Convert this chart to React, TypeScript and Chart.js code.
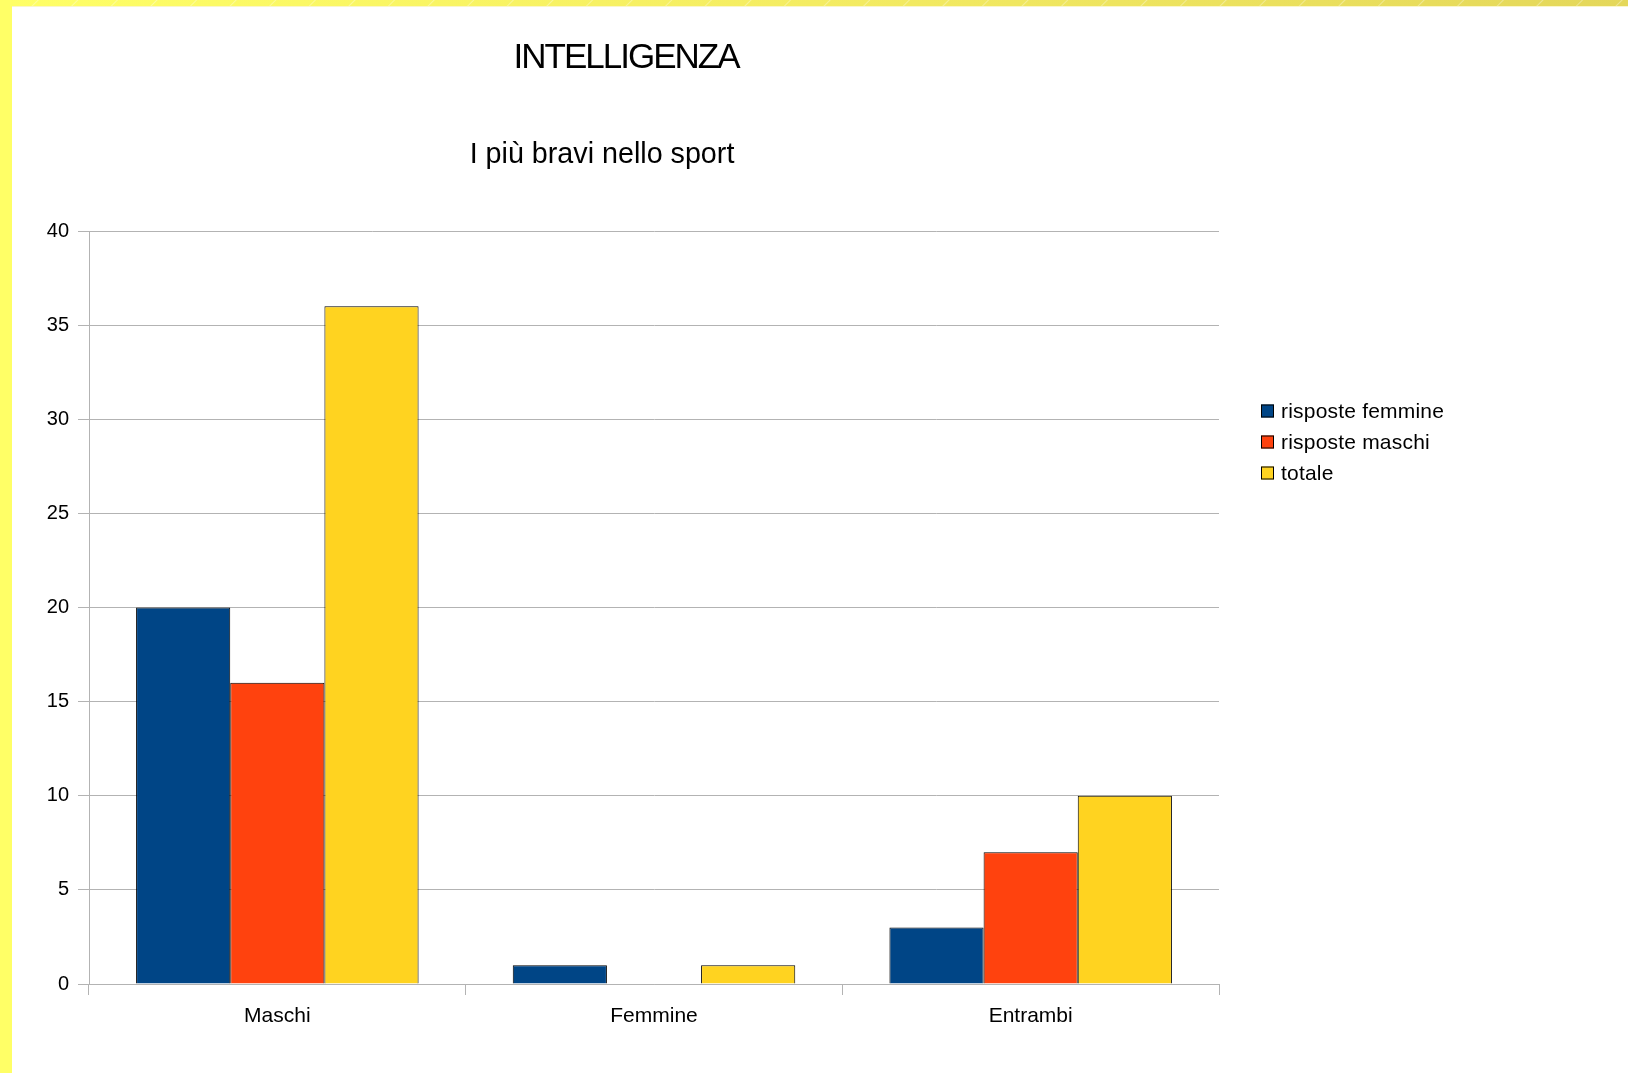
import React, { useEffect, useRef } from "react";
import { Chart, registerables } from "chart.js";

Chart.register(...registerables);

const categories = ["Maschi", "Femmine", "Entrambi"];
const seriesLabels = ["risposte femmine", "risposte maschi", "totale"];
const femmineValues = [20, 1, 3];
const maschiValues = [16, 0, 7];
const totaleValues = [36, 1, 10];
const seriesColors = ["#004586", "#ff420e", "#ffd320"];
const yTicks = [0, 5, 10, 15, 20, 25, 30, 35, 40];

const mainTitle = "INTELLIGENZA";
const subTitle = "I più bravi nello sport";

const FONT = "'Liberation Sans', Arial, sans-serif";
const GRID = "#b3b3b3";

// Titles and the legend are painted by hand so they sit where the layout needs them.
const decorPlugin = {
  id: "decor",
  afterDraw(chart: Chart) {
    const ctx = chart.ctx as any;
    ctx.save();
    ctx.fillStyle = "#000";
    ctx.textAlign = "center";
    ctx.textBaseline = "alphabetic";
    ctx.font = `35px ${FONT}`;
    ctx.letterSpacing = "-2px";
    ctx.fillText(mainTitle, 626, 68);
    ctx.letterSpacing = "0px";
    ctx.font = `28.7px ${FONT}`;
    ctx.fillText(subTitle, 602, 163);

    const items = chart.data.datasets;
    ctx.textAlign = "left";
    ctx.textBaseline = "middle";
    ctx.font = `21px ${FONT}`;
    ctx.letterSpacing = "0.2px";
    items.forEach((ds, i) => {
      const y = 411 + i * 31;
      ctx.fillStyle = ds.backgroundColor as string;
      ctx.fillRect(1261, y - 6.5, 13, 13);
      ctx.strokeStyle = "#000";
      ctx.lineWidth = 1;
      ctx.strokeRect(1261.5, y - 6, 12, 12);
      ctx.fillStyle = "#000";
      ctx.fillText(ds.label as string, 1281, y + 1);
    });
    ctx.restore();
  },
};

function BarChart() {
  const ref = useRef<HTMLCanvasElement | null>(null);

  useEffect(() => {
    if (!ref.current) return;
    const values = [femmineValues, maschiValues, totaleValues];
    const chart = new Chart(ref.current, {
      type: "bar",
      data: {
        labels: categories,
        datasets: seriesLabels.map((label, i) => ({
          label,
          data: values[i],
          backgroundColor: seriesColors[i],
          borderColor: "#000",
          borderWidth: 1,
          categoryPercentage: 0.75,
          barPercentage: 1.0,
        })),
      },
      options: {
        animation: false,
        responsive: false,
        maintainAspectRatio: false,
        layout: { padding: { left: 0, top: 231, right: 409, bottom: 0 } },
        plugins: {
          legend: { display: false },
          title: { display: false },
          tooltip: { enabled: false },
        },
        scales: {
          x: {
            offset: true,
            grid: {
              offset: true,
              drawOnChartArea: true,
              color: (c: any) => (c.index === categories.length ? GRID : "rgba(0,0,0,0)"),
              tickColor: GRID,
              tickLength: 11,
              lineWidth: 1,
            },
            border: { color: GRID, width: 1 },
            ticks: { color: "#000", font: { family: FONT, size: 21 }, padding: 9 },
            afterFit(scale: any) {
              scale.height = 89;
            },
          },
          y: {
            min: 0,
            max: 40,
            afterBuildTicks(scale: any) {
              scale.ticks = yTicks.map((v) => ({ value: v }));
            },
            grid: { color: GRID, tickColor: GRID, tickLength: 11, lineWidth: 1 },
            border: { color: GRID, width: 1 },
            ticks: { color: "#000", font: { family: FONT, size: 20 }, padding: 9 },
            afterFit(scale: any) {
              scale.width = 89;
            },
          },
        },
      },
      plugins: [decorPlugin],
    });
    return () => chart.destroy();
  }, []);

  return <canvas ref={ref} width={1628} height={1073} style={{ display: "block" }} />;
}

export default function App() {
  useEffect(() => {
    document.body.style.margin = "0";
  }, []);
  return (
    <div style={{ position: "absolute", left: 0, top: 0, width: 1628, height: 1073, background: "#fff", overflow: "hidden" }}>
      <BarChart />
      <div
        style={{
          position: "absolute",
          left: 0,
          top: 0,
          width: 1628,
          height: 6,
          background:
            "repeating-linear-gradient(135deg, rgba(255,255,255,0) 0px, rgba(255,255,255,0) 26px, rgba(255,255,255,0.35) 27px, rgba(255,255,255,0) 28px), linear-gradient(90deg, #ffff66 0%, #f4ec62 50%, #e4d75a 100%)",
          borderBottom: "1px solid #fbf6c8",
        }}
      />
      <div style={{ position: "absolute", left: 0, top: 0, width: 12, height: 1073, background: "#ffff66" }} />
    </div>
  );
}
